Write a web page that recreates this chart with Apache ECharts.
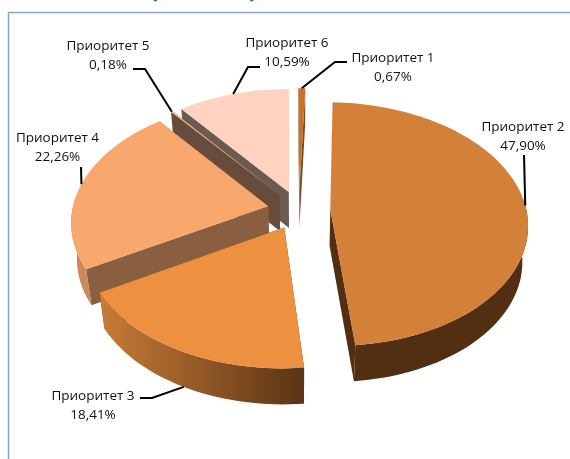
<!DOCTYPE html>
<html>
<head>
<meta charset="utf-8">
<style>
  html, body { margin: 0; padding: 0; background: #fff; }
  #chart { width: 570px; height: 459px; }
</style>
<script src="https://cdn.jsdelivr.net/npm/echarts@6/dist/echarts.min.js"></script>
</head>
<body>
<div id="chart"></div>
<script>
var categories = ['Приоритет 1', 'Приоритет 2', 'Приоритет 3', 'Приоритет 4', 'Приоритет 5', 'Приоритет 6'];
var percents = [0.67, 47.90, 18.41, 22.26, 0.18, 10.59];
var percentLabels = ['0,67%', '47,90%', '18,41%', '22,26%', '0,18%', '10,59%'];

// look of the slices
var topColors = ['#C5722F', '#D38039', '#ED9140', '#F9A86D', '#FFBA90', '#FFD3BF'];
var wallColors = ['#7A4A22', '#522F13', '#6E4019', '#8A5E40', '#654C3C', '#6B5A50'];
var rimColors = [['#B06A2C', '#B06A2C'], ['#522F13', '#522F13'], ['#C97C36', '#5A3315'], ['#CC8A58', '#CC8A58'], ['#A07050', '#A07050'], ['#A08070', '#A08070']];
// back to front, so nearer slices cover the ones behind
var paintOrder = [5, 4, 0, 3, 1, 2];

// label centres, and the bend of each leader line
var labelPos = [[393, 57], [523, 126], [93, 395], [57.5, 137], [108, 45], [287, 42]];
var leaderPoints = [
    [[347, 62], [335, 62]],
    [[524, 155]],
    [[140, 398], [152, 398]],
    [[81, 167]],
    [[133, 69], [145, 69]],
    [[260, 67], [248, 67]]
];
var leaderOnRimBottom = [false, false, true, false, false, false];

// 3d projection settings
var cx = 299, cy = 210;
var radiusX = 196, radiusY = 122, depth = 36;
var perspective = 0.12;
var bottomShrink = 0.025;
var explode = 0.16;
var firstAngle = -0.4;

var total = percents.reduce(function (a, b) { return a + b; }, 0);
var startAngles = [];
var sweeps = [];
var running = firstAngle;
for (let i = 0; i < percents.length; i++) {
    startAngles.push(running);
    sweeps.push(percents[i] / total * 360);
    running += sweeps[i];
}

function project(i, angle, r, z) {
    var mid = (startAngles[i] + sweeps[i] / 2) * Math.PI / 180;
    var a = angle * Math.PI / 180;
    var wx = r * Math.sin(a) + explode * Math.sin(mid);
    var wy = -r * Math.cos(a) - explode * Math.cos(mid);
    var s = 1 + perspective * wy;
    var shrink = 1 - bottomShrink * z / depth;
    return [cx + radiusX * wx * s * shrink, cy + radiusY * wy * s + z];
}

function arcPoints(i, from, to, z) {
    var pts = [];
    var steps = Math.max(2, Math.ceil((to - from) / 2));
    for (let k = 0; k <= steps; k++) {
        pts.push(project(i, from + (to - from) * k / steps, 1, z));
    }
    return pts;
}

function wallShape(i, angle) {
    return [project(i, 0, 0, 0), project(i, angle, 1, 0), project(i, angle, 1, depth), project(i, 0, 0, depth)];
}

function renderSlice(params, api) {
    var i = api.value(0);
    var from = startAngles[i];
    var to = from + sweeps[i];
    var children = [];

    [from, to].forEach(function (angle) {
        children.push({
            type: 'polygon',
            shape: { points: wallShape(i, angle) },
            style: { fill: wallColors[i] }
        });
    });

    // only the part of the rim that faces the viewer
    var rimFrom = Math.max(from, 85);
    var rimTo = Math.min(to, 275);
    if (rimTo > rimFrom) {
        children.push({
            type: 'polygon',
            shape: { points: arcPoints(i, rimFrom, rimTo, 0).concat(arcPoints(i, rimFrom, rimTo, depth).reverse()) },
            style: {
                fill: new echarts.graphic.LinearGradient(0, 0, 1, 0, [
                    { offset: 0, color: rimColors[i][0] },
                    { offset: 1, color: rimColors[i][1] }
                ])
            }
        });
    }

    children.push({
        type: 'polygon',
        shape: { points: [project(i, 0, 0, 0)].concat(arcPoints(i, from, to, 0)) },
        style: { fill: topColors[i] }
    });
    return { type: 'group', children: children };
}

function renderLabel(params, api) {
    var i = api.value(0);
    var mid = startAngles[i] + sweeps[i] / 2;
    var anchor = project(i, mid, 1, leaderOnRimBottom[i] ? depth : 0);
    return {
        type: 'group',
        children: [
            {
                type: 'polyline',
                shape: { points: leaderPoints[i].concat([anchor]) },
                style: { stroke: '#000', lineWidth: 2, fill: null }
            },
            {
                type: 'text',
                style: {
                    x: labelPos[i][0],
                    y: labelPos[i][1] - 8,
                    text: categories[i] + '\n' + percentLabels[i],
                    align: 'center',
                    verticalAlign: 'top',
                    font: '13.5px "Open Sans", sans-serif',
                    lineHeight: 19,
                    fill: '#111'
                }
            }
        ]
    };
}

var chart = echarts.init(document.getElementById('chart'), null, { renderer: 'canvas' });
chart.setOption({
    animation: false,
    backgroundColor: '#fff',
    graphic: [
        {
            type: 'polyline',
            shape: { points: [[8.5, 459], [8.5, 12.5], [570, 12.5]] },
            style: { stroke: '#8AA5CB', lineWidth: 1.5, fill: null },
            silent: true
        },
        {
            type: 'text', x: 155, y: -12,
            style: { text: '[', font: 'bold 14px "Open Sans", sans-serif', fill: '#2F6AA8', align: 'center' },
            silent: true
        },
        {
            type: 'text', x: 252, y: -12,
            style: { text: ']', font: 'bold 14px "Open Sans", sans-serif', fill: '#2F6AA8', align: 'center' },
            silent: true
        }
    ],
    series: [
        {
            type: 'custom',
            coordinateSystem: 'none',
            silent: true,
            z: 2,
            renderItem: renderSlice,
            data: paintOrder.map(function (i) { return [i, percents[i]]; })
        },
        {
            type: 'custom',
            coordinateSystem: 'none',
            silent: true,
            z: 3,
            renderItem: renderLabel,
            data: categories.map(function (name, i) { return [i, percents[i]]; })
        }
    ]
});
window.addEventListener('resize', function () {
    chart.resize();
});
</script>
</body>
</html>
